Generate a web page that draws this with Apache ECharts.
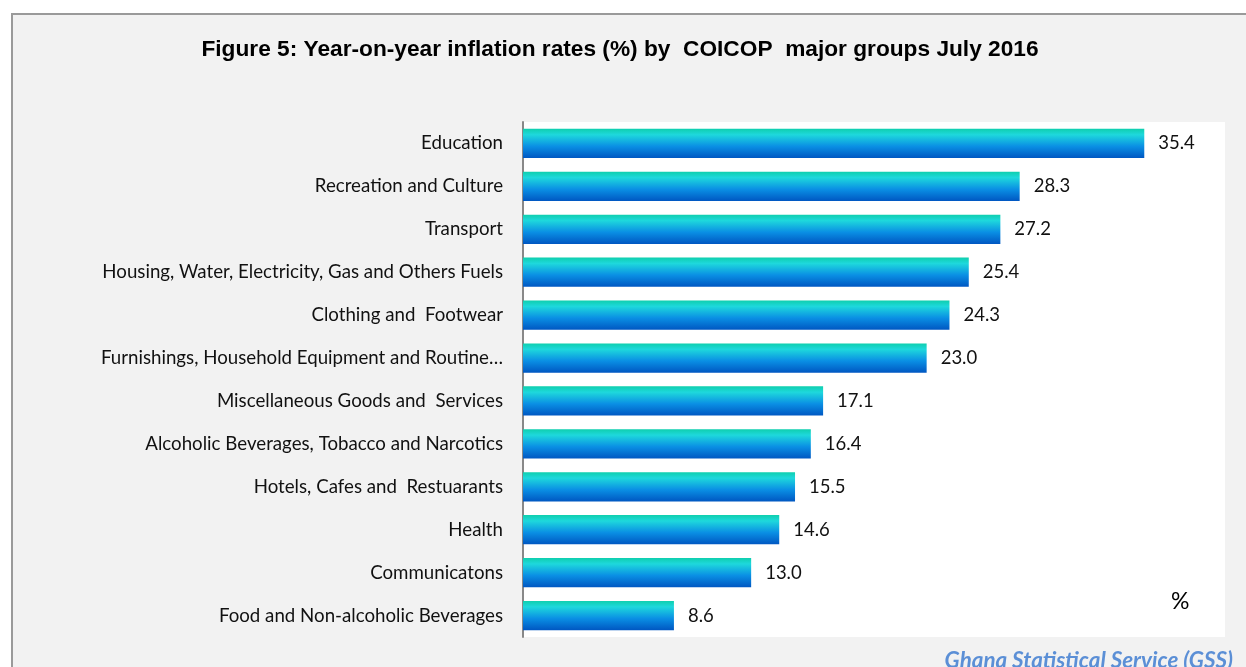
<!DOCTYPE html>
<html>
<head>
<meta charset="utf-8">
<script src="https://cdn.jsdelivr.net/npm/echarts@6/dist/echarts.min.js"></script>
<style>
html,body{margin:0;padding:0;width:1246px;height:667px;overflow:hidden;background:#fff;}
#frame{position:absolute;left:11px;top:13px;width:1235px;height:654px;background:#f2f2f2;border-left:2px solid #9a9a9a;border-top:2px solid #9a9a9a;}
#chart{position:absolute;left:0;top:0;width:1246px;height:667px;}
</style>
</head>
<body>
<div id="frame"></div>
<div id="chart"></div>
<script>
const categories = [
  "Education",
  "Recreation and Culture",
  "Transport",
  "Housing, Water, Electricity, Gas and Others Fuels",
  "Clothing and  Footwear",
  "Furnishings, Household Equipment and Routine…",
  "Miscellaneous Goods and  Services",
  "Alcoholic Beverages, Tobacco and Narcotics",
  "Hotels, Cafes and  Restuarants",
  "Health",
  "Communicatons",
  "Food and Non-alcoholic Beverages"
];
const values = [35.4, 28.3, 27.2, 25.4, 24.3, 23.0, 17.1, 16.4, 15.5, 14.6, 13.0, 8.6];
const titleText = "Figure 5: Year-on-year inflation rates (%) by  COICOP  major groups July 2016";
const unitText = "%";
const sourceText = "Ghana Statistical Service (GSS)";

const chart = echarts.init(document.getElementById('chart'), null, {renderer: 'canvas'});
const grad = new echarts.graphic.LinearGradient(0, 0, 0, 1, [
  {offset: 0, color: '#0fcfae'},
  {offset: 0.2, color: '#1ed8dc'},
  {offset: 0.6, color: '#0a8fe4'},
  {offset: 1, color: '#0057c2'}
]);
chart.setOption({
  backgroundColor: 'transparent',
  animation: false,
  title: {
    text: titleText,
    left: 615, top: 33, textAlign: 'center',
    textStyle: {fontFamily: 'Liberation Sans', fontWeight: 'bold', fontSize: 22.7, color: '#000'}
  },
  grid: {
    left: 523, top: 122, right: 21, bottom: 30,
    show: true, backgroundColor: '#ffffff', borderWidth: 0
  },
  xAxis: {
    type: 'value', min: 0, max: 40, show: false
  },
  yAxis: {
    type: 'category', data: categories, inverse: true,
    axisLine: {show: true, lineStyle: {color: '#888', width: 2}},
    axisTick: {show: false},
    axisLabel: {fontFamily: 'Lato', fontSize: 18.7, color: '#111', margin: 20}
  },
  series: [{
    type: 'bar', data: values, barWidth: '68%',
    itemStyle: {color: grad},
    label: {show: true, position: 'right', distance: 14,
      formatter: p => p.value.toFixed(1),
      fontFamily: 'Lato', fontSize: 18.5, color: '#111'}
  }],
  graphic: [
    {type: 'text', left: 1171, top: 590, style: {text: unitText, fontFamily: 'Lato', fontSize: 23, fill: '#000'}},
    {type: 'text', right: 13, top: 650, style: {text: sourceText, fontFamily: 'Lato', fontStyle: 'italic', fontWeight: 'bold', fontSize: 22.4, fill: '#5b8fd6'}}
  ]
});
</script>
</body>
</html>
